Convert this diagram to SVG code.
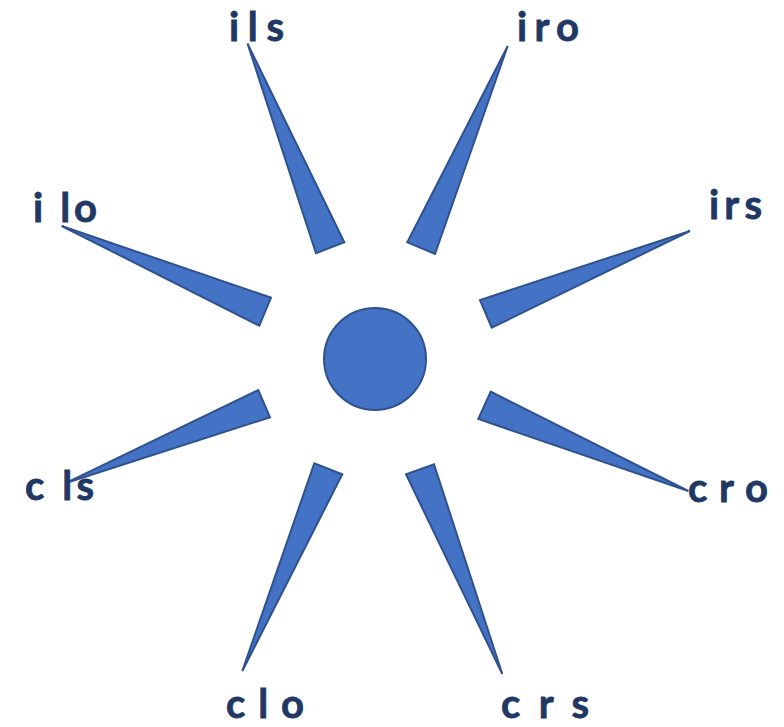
<svg xmlns="http://www.w3.org/2000/svg" width="784" height="727" viewBox="0 0 784 727">
<style>
.w{fill:#4472C4;stroke:#2F528F;stroke-width:2;stroke-linejoin:miter}
.t{font-family:Lato,"Open Sans","Liberation Sans",sans-serif;font-weight:bold;font-size:40px;fill:#1F3864;stroke:#1F3864;stroke-width:0.8}
</style>
<rect width="784" height="727" fill="#ffffff"/>
<g id="center"><circle class="w" cx="375" cy="359" r="51"/></g>
<g id="ils"><polygon class="w" points="247.5,43.5 344.3,242.3 316,253.3"/><text class="t" x="229" y="41" textLength="55" lengthAdjust="spacing">ils</text></g>
<g id="iro"><polygon class="w" points="507.7,46 435,254 407.3,242.3"/><text class="t" x="517" y="41" textLength="62" lengthAdjust="spacing">iro</text></g>
<g id="ilo"><polygon class="w" points="61.7,226 271,297.7 259.3,325.7"/><text class="t" x="33" y="222" textLength="64" lengthAdjust="spacing">i lo</text></g>
<g id="irs"><polygon class="w" points="690,231 491.7,327.7 480,300"/><text class="t" x="709" y="219" textLength="53" lengthAdjust="spacing">irs</text></g>
<g id="cls"><polygon class="w" points="66.7,482.7 258.3,390 270,417.3"/><text class="t" x="25" y="500" textLength="69" lengthAdjust="spacing">c ls</text></g>
<g id="cro"><polygon class="w" points="688.3,491 478.3,419 490.7,391.7"/><text class="t" x="688" y="502" textLength="80" lengthAdjust="spacing">c r o</text></g>
<g id="clo"><polygon class="w" points="242.3,671 314.3,463.3 342.3,474.3"/><text class="t" x="226" y="718" textLength="78" lengthAdjust="spacing">c l o</text></g>
<g id="crs"><polygon class="w" points="502.3,674 406,474.3 434,464.3"/><text class="t" x="501" y="718" textLength="88" lengthAdjust="spacing">c r s</text></g>
</svg>
